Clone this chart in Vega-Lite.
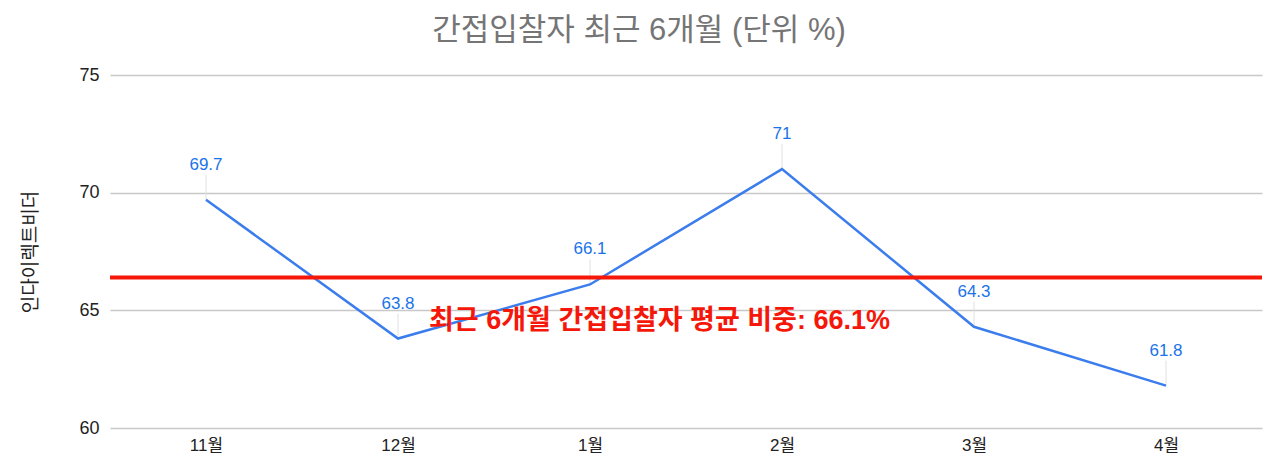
{
  "$schema": "https://vega.github.io/schema/vega-lite/v6.json",
  "autosize": "none",
  "width": 1152,
  "height": 353,
  "padding": {"left": 110, "top": 75, "right": 18, "bottom": 46},
  "background": "white",
  "title": {
    "text": "간접입찰자 최근 6개월 (단위 %)",
    "fontSize": 31,
    "fontWeight": "normal",
    "color": "#757575",
    "anchor": "middle",
    "dx": -47,
    "offset": 19
  },
  "datasets": {
    "main": [
      {"month": "11월", "value": 69.7},
      {"month": "12월", "value": 63.8},
      {"month": "1월", "value": 66.1},
      {"month": "2월", "value": 71},
      {"month": "3월", "value": 64.3},
      {"month": "4월", "value": 61.8}
    ],
    "avg": [
      {"avg": 66.4, "labelMonth": "12월", "labelY": 64.55, "text": "최근 6개월 간접입찰자 평균 비중: 66.1%"}
    ]
  },
  "data": {"name": "main"},
  "encoding": {
    "x": {
      "field": "month",
      "type": "ordinal",
      "sort": null,
      "scale": {"type": "point", "padding": 0.5},
      "axis": {
        "title": null,
        "labelAngle": 0,
        "domain": false,
        "ticks": false,
        "grid": false,
        "labelFontSize": 17,
        "labelColor": "#222222",
        "labelPadding": 9
      }
    },
    "y": {
      "field": "value",
      "type": "quantitative",
      "scale": {"domain": [60, 75], "nice": false, "zero": false},
      "axis": {
        "title": "인다이렉트비더",
        "titleFontSize": 19,
        "titleFontWeight": "normal",
        "titleColor": "#222222",
        "titlePadding": 38,
        "values": [60, 65, 70, 75],
        "domain": false,
        "ticks": false,
        "grid": true,
        "gridColor": "#c8c8c8",
        "gridWidth": 1.5,
        "labelFontSize": 18,
        "labelColor": "#222222",
        "labelPadding": 11
      }
    }
  },
  "layer": [
    {
      "mark": {"type": "point", "shape": "M0,0L0,-1", "size": 2500, "filled": false, "stroke": "#e0e0e0", "strokeWidth": 1, "opacity": 1}
    },
    {
      "mark": {"type": "line", "color": "#3b7ded", "strokeWidth": 2.5}
    },
    {
      "mark": {"type": "text", "color": "#1a73e8", "fontSize": 17, "dy": -35, "baseline": "middle"},
      "encoding": {"text": {"field": "value", "type": "quantitative"}}
    },
    {
      "data": {"name": "avg"},
      "mark": {"type": "rule", "color": "#f5180a", "strokeWidth": 4},
      "encoding": {"y": {"field": "avg", "type": "quantitative"}, "x": null}
    },
    {
      "data": {"name": "avg"},
      "mark": {"type": "text", "color": "#f5180a", "fontSize": 27, "fontWeight": "bold", "align": "left", "baseline": "middle", "dx": 31},
      "encoding": {
        "x": {"field": "labelMonth", "type": "ordinal"},
        "y": {"field": "labelY", "type": "quantitative"},
        "text": {"field": "text"}
      }
    }
  ],
  "config": {
    "font": "Liberation Sans, Noto Sans CJK KR, sans-serif",
    "view": {"stroke": null}
  }
}
